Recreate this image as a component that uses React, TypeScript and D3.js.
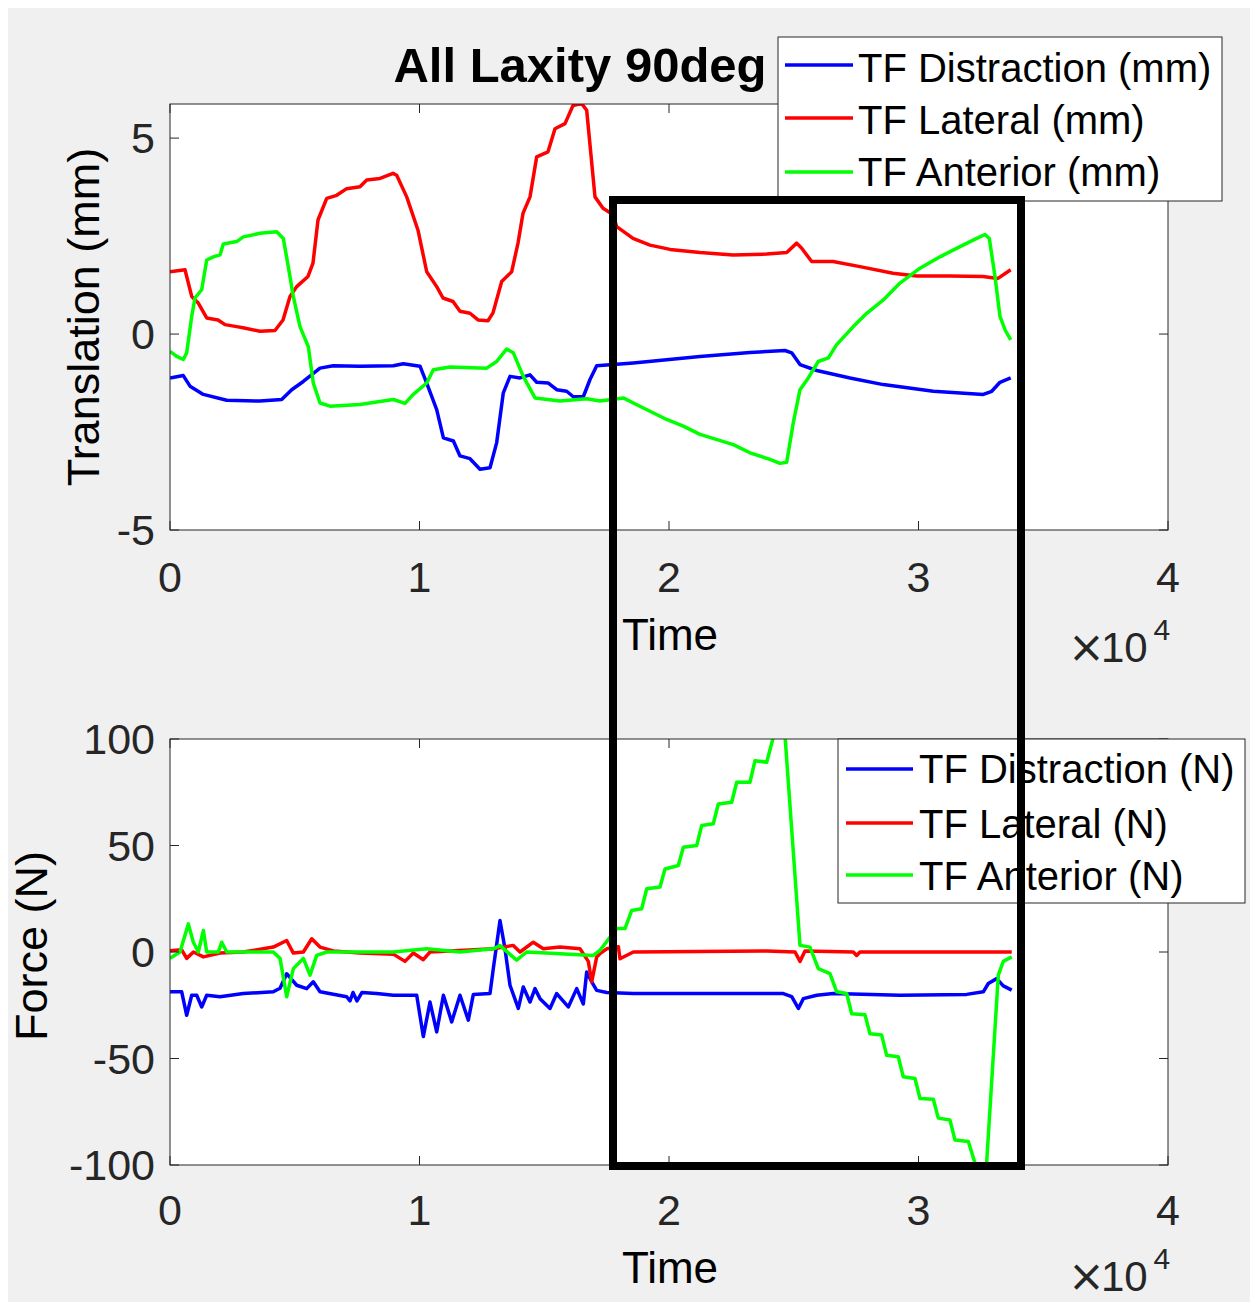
import React from "react";
import * as d3 from "d3";

// ---------- data (time in raw units) ----------
const transDistraction: [number, number][] = [
  [0, -1.12], [533, -1.06], [802, -1.33], [1335, -1.54], [2273, -1.69], [3607, -1.71], [4477, -1.67],
  [4878, -1.42], [5343, -1.21], [6012, -0.87], [6545, -0.81], [7615, -0.82], [8950, -0.81], [9351, -0.76],
  [10020, -0.82], [10289, -1.25], [10689, -1.93], [10958, -2.65], [11359, -2.73], [11623, -3.11],
  [12024, -3.18], [12425, -3.45], [12826, -3.41], [13094, -2.77], [13359, -1.5], [13627, -1.08],
  [14028, -1.12], [14429, -1.04], [14697, -1.23], [15163, -1.25], [15499, -1.42], [15900, -1.46],
  [16164, -1.6], [16565, -1.6], [16834, -1.16], [17102, -0.81], [17768, -0.78], [18570, -0.74],
  [21242, -0.57], [23246, -0.47], [24649, -0.42], [24918, -0.48], [25250, -0.78], [25920, -0.93],
  [27254, -1.12], [28590, -1.29], [30594, -1.46], [32598, -1.54], [32935, -1.46], [33266, -1.23],
  [33695, -1.12],
];
const transLateral: [number, number][] = [
  [0, 1.59], [601, 1.64], [870, 0.96], [1122, 0.8], [1471, 0.41], [1924, 0.36], [2204, 0.24], [2673, 0.19],
  [2926, 0.16], [3607, 0.07], [4208, 0.09], [4529, 0.36], [4810, 0.96], [5078, 1.21], [5531, 1.47],
  [5731, 1.81], [5932, 2.91], [6281, 3.46], [6681, 3.54], [7082, 3.71], [7615, 3.76], [7884, 3.93],
  [8417, 3.97], [8938, 4.1], [9086, 4.05], [9487, 3.5], [9940, 2.65], [10289, 1.59], [10689, 1.21],
  [10942, 0.92], [11343, 0.83], [11623, 0.58], [12024, 0.53], [12345, 0.36], [12745, 0.34], [12946, 0.54],
  [13294, 1.34], [13695, 1.59], [13948, 2.32], [14148, 3.08], [14429, 3.5], [14697, 4.52], [15150, 4.65],
  [15431, 5.24], [15832, 5.37], [16152, 5.83], [16501, 5.88], [16701, 5.71], [17034, 3.5], [17355, 3.21],
  [17755, 3.05], [17904, 2.74], [18557, 2.44], [19238, 2.27], [20040, 2.16], [21242, 2.08], [22565, 2.02],
  [23916, 2.04], [24717, 2.08], [25118, 2.32], [25319, 2.19], [25719, 1.85], [26573, 1.85], [27655, 1.72],
  [28978, 1.55], [29928, 1.48], [31262, 1.48], [32585, 1.47], [33186, 1.42], [33695, 1.64],
];
const transAnterior: [number, number][] = [
  [0, -0.44], [269, -0.57], [533, -0.65], [669, -0.48], [870, 0.45], [1002, 0.92], [1271, 1.13],
  [1471, 1.89], [1735, 1.97], [2004, 2.02], [2136, 2.3], [2673, 2.36], [2938, 2.48], [3607, 2.57],
  [4277, 2.61], [4541, 2.44], [4741, 1.72], [4942, 0.96], [5210, 0.19], [5543, -0.32], [5743, -1.25],
  [6012, -1.76], [6413, -1.84], [7615, -1.8], [8950, -1.67], [9419, -1.77], [9752, -1.54], [10289, -1.25],
  [10554, -0.91], [11222, -0.84], [12693, -0.87], [13094, -0.7], [13495, -0.38], [13760, -0.48],
  [14160, -1.08], [14629, -1.63], [15631, -1.71], [16701, -1.65], [17234, -1.71], [18170, -1.63],
  [18570, -1.76], [19238, -1.97], [19907, -2.18], [20573, -2.35], [21242, -2.56], [22577, -2.82],
  [23246, -3.03], [24048, -3.2], [24449, -3.3], [24717, -3.27], [24982, -2.26], [25250, -1.42],
  [25583, -1.12], [25984, -0.7], [26385, -0.61], [26721, -0.27], [27387, 0.19], [27924, 0.53],
  [28590, 0.87], [29258, 1.3], [30060, 1.68], [30862, 1.97], [31663, 2.23], [32333, 2.44], [32665, 2.54],
  [32838, 2.44], [33066, 1.47], [33266, 0.45], [33467, 0.11], [33695, -0.15],
];

const forceDistraction: [number, number][] = [
  [0, -18.7], [469, -18.7], [669, -29.7], [870, -20.3], [1070, -20.3], [1271, -25.8], [1471, -20.3],
  [2004, -21], [2938, -19.5], [4140, -18.7], [4409, -17], [4677, -10.2], [5078, -15.6], [5479, -17.2],
  [5743, -14], [6012, -18.7], [7082, -21], [7214, -23], [7335, -19], [7495, -23], [7695, -19],
  [8285, -19.5], [8950, -20.3], [9888, -20.3], [10153, -39.7], [10421, -23.5], [10689, -37.5],
  [10958, -20.3], [11290, -32.8], [11623, -20.3], [11956, -32], [12156, -20], [12826, -19.5],
  [12958, -7.8], [13226, 14.8], [13427, 1.5], [13627, -15.6], [13960, -26.5], [14160, -16.4],
  [14429, -23.5], [14629, -17.2], [14830, -21.9], [15230, -26.5], [15499, -19.5], [15964, -25.8],
  [16301, -17.2], [16565, -24.4], [16701, -9.4], [16902, -14], [17102, -18], [17503, -19], [18570, -19.5],
  [21242, -19.5], [24582, -19.5], [24918, -21], [25186, -26.5], [25386, -21.9], [25920, -20.3],
  [26586, -19.5], [29258, -20.3], [31932, -19.9], [32598, -18.7], [32798, -14.8], [33134, -12.5],
  [33399, -15.9], [33736, -17.9],
];
const forceLateral: [number, number][] = [
  [0, 0.6], [469, 1], [669, -3], [938, 0], [1338, -2.3], [2004, -0.5], [2938, 0], [4140, 2.3], [4677, 5.4],
  [4944, -0.5], [5345, 0], [5681, 6.2], [6012, 2.3], [6546, 0.5], [7615, -0.5], [8950, -1], [9419, -4.4],
  [9752, -0.5], [10153, -3.6], [10421, 0], [12958, 1.5], [13760, 3.1], [14028, 0], [14562, 4.6],
  [14963, 1.5], [15631, 2.3], [16433, 1.5], [16766, -4.4], [16902, -14], [17102, -2.3], [17234, -0.8],
  [17503, 1.5], [17970, 2.5], [18036, -3.2], [18570, 0], [23916, 0.5], [25052, 0], [25250, -4.4],
  [25451, 0.5], [27387, 0], [27520, -1.6], [27654, 0], [30594, 0], [33736, 0],
];
const forceAnterior: [number, number][] = [
  [0, -3], [401, 0], [735, 13.2], [935, 4.6], [1136, 0], [1338, 10.1], [1471, 0], [1937, 0], [2072, 4.6],
  [2273, 0], [4140, 0], [4409, -3], [4677, -21], [4944, -7.8], [5345, -3], [5611, -10.9], [5879, -1.6],
  [6279, 0], [8950, 0], [10289, 1.5], [11623, 0], [12958, 1.5], [13226, 3], [13894, -3.8], [14295, 0],
  [16969, -1.6], [17234, 0.8], [17904, 11], [18237, 11], [18506, 19.5], [18906, 20.3], [19107, 29.7],
  [19639, 30.5], [19840, 39], [20374, 40.6], [20574, 49.2], [21111, 50], [21311, 59.4], [21776, 60.2],
  [21976, 69.5], [22513, 70.3], [22713, 79.7], [23246, 79.7], [23446, 89.8], [23916, 89.1], [24184, 101],
  [24653, 101], [25250, 3.1], [25651, 2.3], [25984, -7.8], [26453, -10.2], [26721, -18.7], [27122, -19.5],
  [27322, -29], [27855, -29.5], [28055, -38.4], [28523, -39], [28724, -48.5], [29190, -49.2],
  [29390, -58.6], [29859, -59.4], [30060, -68.8], [30594, -69.1], [30794, -78], [31262, -78.9],
  [31463, -88.3], [31996, -89], [32262, -99], [32500, -106], [32731, -99], [33199, -10.9], [33399, -4.4],
  [33736, -2.3],
];

const xTicks = [0, 10000, 20000, 30000, 40000];
const xTickLabels = ["0", "1", "2", "3", "4"];
const topYTicks = [-5, 0, 5];
const botYTicks = [-100, -50, 0, 50, 100];
const topLegend = ["TF Distraction (mm)", "TF Lateral (mm)", "TF Anterior (mm)"];
const botLegend = ["TF Distraction (N)", "TF Lateral (N)", "TF Anterior (N)"];
const colors = ["#0000ff", "#ff0000", "#00ff00"];

const FONT = "'Liberation Sans', Arial, Helvetica, sans-serif";
const AX = "#262626";

const X0 = 170, X1 = 1168;
const x = d3.scaleLinear().domain([0, 40000]).range([X0, X1]);
const yTop = d3.scaleLinear().domain([-5, 5.87]).range([530, 104]);
const yBot = d3.scaleLinear().domain([-100, 100]).range([1165, 739]);

function Axes({ y, yTicks, series, clipId, ylabel, labelX, xTickBase, timeBase, expBase }: any) {
  const [r0, r1] = y.range();
  const top = Math.min(r0, r1), bot = Math.max(r0, r1);
  const line = d3.line<[number, number]>().x((d) => x(d[0])).y((d) => y(d[1]));
  const tl = 9;
  return (
    <g>
      <defs>
        <clipPath id={clipId}>
          <rect x={X0} y={top} width={X1 - X0} height={bot - top} />
        </clipPath>
      </defs>
      <rect x={X0} y={top} width={X1 - X0} height={bot - top} fill="#ffffff" />
      <g clipPath={`url(#${clipId})`}>
        {series.map((s: [number, number][], i: number) => (
          <path key={i} d={line(s) || ""} fill="none" stroke={colors[i]} strokeWidth={3.5} strokeLinejoin="round" />
        ))}
      </g>
      <rect x={X0} y={top} width={X1 - X0} height={bot - top} fill="none" stroke={AX} strokeWidth={1} />
      {xTicks.map((t) => (
        <g key={"xt" + t}>
          <line x1={x(t)} x2={x(t)} y1={bot} y2={bot - tl} stroke={AX} />
          <line x1={x(t)} x2={x(t)} y1={top} y2={top + tl} stroke={AX} />
        </g>
      ))}
      {yTicks.map((t: number) => (
        <g key={"yt" + t}>
          <line x1={X0} x2={X0 + tl} y1={y(t)} y2={y(t)} stroke={AX} />
          <line x1={X1} x2={X1 - tl} y1={y(t)} y2={y(t)} stroke={AX} />
          <text x={155} y={y(t) + 15} textAnchor="end" fontSize={43} fill={AX} fontFamily={FONT}>
            {t}
          </text>
        </g>
      ))}
      {xTicks.map((t, i) => (
        <text key={"xl" + t} x={x(t)} y={xTickBase} textAnchor="middle" fontSize={43} fill={AX} fontFamily={FONT}>
          {xTickLabels[i]}
        </text>
      ))}
      <text x={670} y={timeBase} textAnchor="middle" fontSize={44} fill="#000" fontFamily={FONT}>
        Time
      </text>
      <text x={1068} y={expBase} fontSize={42} fill={AX} fontFamily={FONT}>
        <tspan fontFamily="'DejaVu Sans', sans-serif" fontSize={44}>×</tspan>
        <tspan dx={-4}>10</tspan>
        <tspan dx={6} dy={-22} fontSize={30}>4</tspan>
      </text>
      <text
        transform={`translate(${labelX[0]},${labelX[1]}) rotate(-90)`}
        textAnchor="middle"
        fontSize={45}
        fill="#000"
        fontFamily={FONT}
      >
        {ylabel}
      </text>
    </g>
  );
}

function Legend({ x0, y0, w, h, labels, lineYs, textBases, textX, lineX }: any) {
  return (
    <g>
      <rect x={x0} y={y0} width={w} height={h} fill="#ffffff" stroke={AX} strokeWidth={1} />
      {labels.map((l: string, i: number) => (
        <g key={l}>
          <line x1={lineX[0]} x2={lineX[1]} y1={lineYs[i]} y2={lineYs[i]} stroke={colors[i]} strokeWidth={3.5} />
          <text x={textX} y={textBases[i]} fontSize={40} fill="#000" fontFamily={FONT}>
            {l}
          </text>
        </g>
      ))}
    </g>
  );
}

export default function App() {
  return (
    <svg width={1250} height={1302} style={{ display: "block", position: "absolute", left: 0, top: 0 }}>
      <rect x={0} y={0} width={1250} height={1302} fill="#ffffff" />
      <rect x={8} y={8} width={1242} height={1294} fill="#f0f0f0" />
      <Axes
        y={yTop}
        yTicks={topYTicks}
        series={[transDistraction, transLateral, transAnterior]}
        clipId="clipTop"
        ylabel="Translation (mm)"
        labelX={[99, 317]}
        xTickBase={592}
        timeBase={650}
        expBase={662}
      />
      <Axes
        y={yBot}
        yTicks={botYTicks}
        series={[forceDistraction, forceLateral, forceAnterior]}
        clipId="clipBot"
        ylabel="Force (N)"
        labelX={[47, 946]}
        xTickBase={1225}
        timeBase={1283}
        expBase={1291}
      />
      <text x={580} y={82} textAnchor="middle" fontSize={49} fontWeight="bold" fill="#000" fontFamily={FONT}>
        All Laxity 90deg
      </text>
      <Legend
        x0={778}
        y0={37}
        w={444}
        h={164}
        labels={topLegend}
        lineYs={[65, 118, 172]}
        textBases={[82, 134, 186]}
        textX={858}
        lineX={[785, 853]}
      />
      <Legend
        x0={838}
        y0={739}
        w={407}
        h={164}
        labels={botLegend}
        lineYs={[769, 823, 875]}
        textBases={[783, 838, 890]}
        textX={919}
        lineX={[846, 913]}
      />
      <rect x={613} y={200} width={408} height={966} fill="none" stroke="#000" strokeWidth={8} />
    </svg>
  );
}
